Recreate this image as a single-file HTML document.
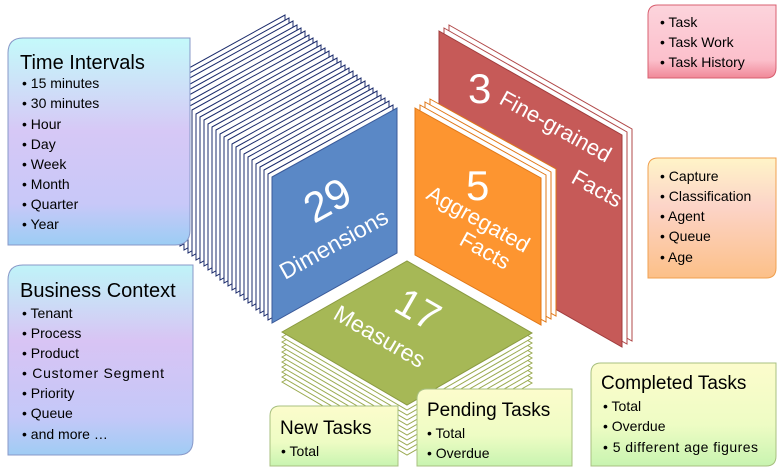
<!DOCTYPE html>
<html><head><meta charset="utf-8"><style>
html,body{margin:0;padding:0;background:#fff}
svg{display:block}
text{font-family:"Liberation Sans",sans-serif}
</style></head><body>
<svg width="784" height="472" viewBox="0 0 784 472" xmlns="http://www.w3.org/2000/svg">
<defs>
<linearGradient id="gTime" x1="0" y1="0" x2="0" y2="1">
<stop offset="0" stop-color="#c4fafa"/><stop offset="0.45" stop-color="#d6c8f6"/><stop offset="0.8" stop-color="#c8c8f8"/><stop offset="1" stop-color="#9ccdf4"/></linearGradient>
<linearGradient id="gBiz" x1="0" y1="0" x2="0" y2="1">
<stop offset="0" stop-color="#bff4f8"/><stop offset="0.4" stop-color="#d8c4f4"/><stop offset="0.8" stop-color="#c4c8f8"/><stop offset="1" stop-color="#a0ccf4"/></linearGradient>
<linearGradient id="gPink" x1="0" y1="0" x2="0" y2="1">
<stop offset="0" stop-color="#fcd4dc"/><stop offset="0.75" stop-color="#fcc0cc"/><stop offset="1" stop-color="#f08898"/></linearGradient>
<linearGradient id="gOr" x1="0" y1="0" x2="0" y2="1">
<stop offset="0" stop-color="#fff4c8"/><stop offset="0.4" stop-color="#fcd4c8"/><stop offset="1" stop-color="#fcc088"/></linearGradient>
<linearGradient id="gGr" x1="0" y1="0" x2="0" y2="1">
<stop offset="0" stop-color="#fcfccc"/><stop offset="0.6" stop-color="#eefcc4"/><stop offset="1" stop-color="#c8f4b0"/></linearGradient>
</defs>

<g stroke="#1c2c6c" stroke-width="1" fill="#fff">
<polygon points="160,84 285,15 285,160 160,230"/>
<polygon points="164,87 289,18 289,163 164,233"/>
<polygon points="168,90 293,21 293,166 168,236"/>
<polygon points="172,94 297,25 297,170 172,240"/>
<polygon points="176,97 301,28 301,173 176,243"/>
<polygon points="180,100 305,31 305,176 180,246"/>
<polygon points="184,104 309,35 309,180 184,250"/>
<polygon points="188,107 313,38 313,183 188,253"/>
<polygon points="192,110 317,41 317,186 192,256"/>
<polygon points="196,114 321,45 321,190 196,260"/>
<polygon points="200,117 325,48 325,193 200,263"/>
<polygon points="204,120 329,51 329,196 204,266"/>
<polygon points="208,124 333,55 333,200 208,270"/>
<polygon points="212,127 337,58 337,203 212,273"/>
<polygon points="216,130 341,61 341,206 216,276"/>
<polygon points="220,134 345,65 345,210 220,280"/>
<polygon points="224,137 349,68 349,213 224,283"/>
<polygon points="228,140 353,71 353,216 228,286"/>
<polygon points="232,144 357,75 357,220 232,290"/>
<polygon points="236,147 361,78 361,223 236,293"/>
<polygon points="240,150 365,81 365,226 240,296"/>
<polygon points="244,154 369,85 369,230 244,300"/>
<polygon points="248,157 373,88 373,233 248,303"/>
<polygon points="252,160 377,91 377,236 252,306"/>
<polygon points="256,164 381,95 381,240 256,310"/>
<polygon points="260,167 385,98 385,243 260,313"/>
<polygon points="264,170 389,101 389,246 264,316"/>
<polygon points="268,174 393,105 393,250 268,320"/>
</g>
<polygon points="272,177 397,108 397,253 272,323" fill="#5a88c6" stroke="#3a5a9a"/>
<text fill="#fff" font-size="42" transform="translate(314,224) rotate(-29)">29</text>
<text fill="#fff" font-size="23" transform="translate(285,280) rotate(-29)">Dimensions</text>

<g fill="#fff" stroke="#b04848">
<polygon points="449,25 632,129 632,341 449,237"/>
<polygon points="444,28 627,132 627,344 444,240"/>
</g>
<polygon points="439,31 622,135 622,347 439,243" fill="#c65a58" stroke="#a03c3c"/>
<text fill="#fff" font-size="42" transform="translate(468,103)">3</text>
<text fill="#fff" font-size="22" transform="translate(498,103) rotate(29)">Fine-grained</text>
<text fill="#fff" font-size="22" transform="translate(570,182) rotate(29)">Facts</text>

<g fill="#fff" stroke="#e07818">
<polygon points="430,99 556,169 556,316 430,246"/>
<polygon points="425,102 551,172 551,319 425,249"/>
<polygon points="420,105 546,175 546,322 420,252"/>
</g>
<polygon points="415,108 541,178 541,325 415,255" fill="#fd9530" stroke="#e07818"/>
<text fill="#fff" font-size="42" transform="translate(466,200)">5</text>
<text fill="#fff" font-size="22" transform="translate(425,198) rotate(29)">Aggregated</text>
<text fill="#fff" font-size="22" transform="translate(458,244) rotate(29)">Facts</text>

<g fill="#fff" stroke="#9aaa50">
<polygon points="282,382 407,311 532,383 407,455"/>
<polygon points="282,377 407,306 532,378 407,450"/>
<polygon points="282,372 407,301 532,373 407,445"/>
<polygon points="282,367 407,296 532,368 407,440"/>
<polygon points="282,362 407,291 532,363 407,435"/>
<polygon points="282,357 407,286 532,358 407,430"/>
<polygon points="282,352 407,281 532,353 407,425"/>
<polygon points="282,347 407,276 532,348 407,420"/>
<polygon points="282,342 407,271 532,343 407,415"/>
<polygon points="282,337 407,266 532,338 407,410"/>
</g>
<polygon points="282,332 407,261 532,333 407,405" fill="#a6b856" stroke="#8a9a40"/>
<text fill="#fff" font-size="40" transform="translate(392,310) rotate(30)">17</text>
<text fill="#fff" font-size="23" transform="translate(332,318) rotate(30)">Measures</text>

<path d="M23,38 H190 V230 Q190,245 175,245 H8 V53 Q8,38 23,38 Z" fill="url(#gTime)" stroke="#8898c8"/>
<text x="20" y="69" font-size="20" fill="#000">Time Intervals</text>
<g font-size="14" fill="#000" textLength="0">
<text x="22" y="88">• 15 minutes</text><text x="22" y="108">• 30 minutes</text><text x="22" y="129">• Hour</text><text x="22" y="149">• Day</text><text x="22" y="169">• Week</text><text x="22" y="189">• Month</text><text x="22" y="209">• Quarter</text><text x="22" y="229">• Year</text>
</g>
<path d="M23,265 H193 V440 Q193,455 178,455 H8 V280 Q8,265 23,265 Z" fill="url(#gBiz)" stroke="#8898c8"/>
<text x="20" y="297" font-size="20" fill="#000">Business Context</text>
<g font-size="14" fill="#000">
<text x="22" y="318">• Tenant</text><text x="22" y="338">• Process</text><text x="22" y="358">• Product</text><text x="22" y="378" textLength="142">• Customer Segment</text><text x="22" y="398">• Priority</text><text x="22" y="418">• Queue</text><text x="22" y="439">• and more …</text>
</g>

<path d="M658,5 H776 V68 Q776,78 766,78 H648 V15 Q648,5 658,5 Z" fill="url(#gPink)" stroke="#d86070"/>
<g font-size="14" fill="#000"><text x="660" y="27">• Task</text><text x="660" y="47">• Task Work</text><text x="660" y="67">• Task History</text></g>

<path d="M658,158 H776 V268 Q776,278 766,278 H648 V168 Q648,158 658,158 Z" fill="url(#gOr)" stroke="#f0a050"/>
<g font-size="14" fill="#000"><text x="660" y="181">• Capture</text><text x="660" y="201">• Classification</text><text x="660" y="221">• Agent</text><text x="660" y="241">• Queue</text><text x="660" y="262">• Age</text></g>

<path d="M601,363 H776 V456 Q776,466 766,466 H591 V373 Q591,363 601,363 Z" fill="url(#gGr)" stroke="#a8c080"/>
<text x="601" y="389" font-size="19" fill="#000">Completed Tasks</text>
<g font-size="14" fill="#000"><text x="603" y="411">• Total</text><text x="603" y="431">• Overdue</text><text x="603" y="452" textLength="155">• 5 different age figures</text></g>

<path d="M280,406 H398 V466 H270 V416 Q270,406 280,406 Z" fill="url(#gGr)" stroke="#a8c080"/>
<text x="280" y="434" font-size="19" fill="#000">New Tasks</text>
<text x="281" y="456" font-size="14" fill="#000">• Total</text>

<path d="M427,389 H572 V466 H417 V399 Q417,389 427,389 Z" fill="url(#gGr)" stroke="#a8c080"/>
<text x="427" y="416" font-size="19" fill="#000">Pending Tasks</text>
<g font-size="14" fill="#000"><text x="427" y="438">• Total</text><text x="427" y="458">• Overdue</text></g>
</svg>
</body></html>
